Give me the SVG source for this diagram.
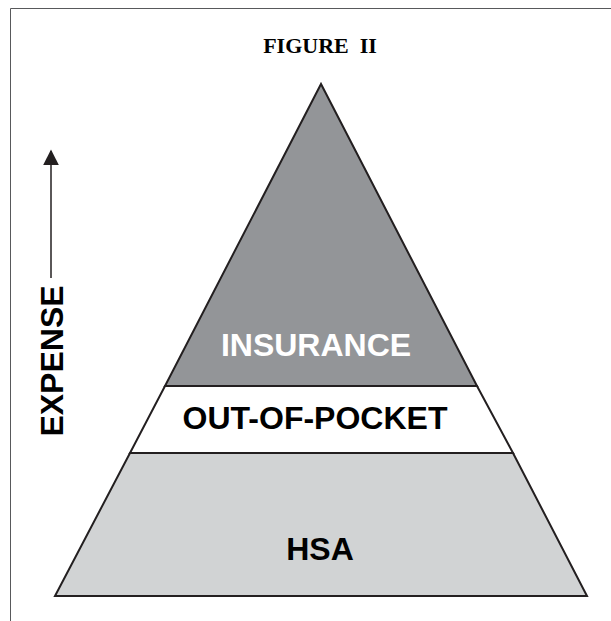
<svg xmlns="http://www.w3.org/2000/svg" width="611" height="621" viewBox="0 0 611 621">
<style>
.lbl{font-family:"Liberation Sans",Arial,sans-serif;font-weight:bold;font-size:32px;text-anchor:middle}
.edge{stroke:#231f20;stroke-width:2;stroke-linejoin:miter}
</style>
<defs>
<marker id="ah" viewBox="0 0 10 10" refX="9" refY="5" markerWidth="16" markerHeight="16" markerUnits="userSpaceOnUse" orient="auto">
<path d="M0,0 L10,5 L0,10 Z" fill="#231f20"/>
</marker>
</defs>
<rect width="611" height="621" fill="#fff"/>
<path d="M10.5,621 V8.5 H611" fill="none" stroke="#58595b" stroke-width="1"/>
<text x="320" y="53" font-family="'Liberation Serif','Times New Roman',serif" font-weight="bold" font-size="22" text-anchor="middle" fill="#000" xml:space="preserve" style="white-space:pre">FIGURE  II</text>
<g id="insurance">
<polygon points="321,84 165,386 477,386" fill="#939598" class="edge"/>
<text x="316" y="356" class="lbl" fill="#fff">INSURANCE</text>
</g>
<g id="out-of-pocket">
<polygon points="165,386 477,386 513,453 130,453" fill="#fff" class="edge"/>
<text x="315" y="429" class="lbl" fill="#000">OUT-OF-POCKET</text>
</g>
<g id="hsa">
<polygon points="130,453 513,453 587,596 55,596" fill="#d1d3d4" class="edge"/>
<text x="320" y="560" class="lbl" fill="#000">HSA</text>
</g>
<g id="expense">
<text transform="translate(63,361) rotate(-90)" class="lbl" fill="#000">EXPENSE</text>
</g>
<g id="connectors">
<line x1="51" y1="278" x2="51" y2="151" stroke="#231f20" stroke-width="1.5" marker-end="url(#ah)"/>
</g>
</svg>
